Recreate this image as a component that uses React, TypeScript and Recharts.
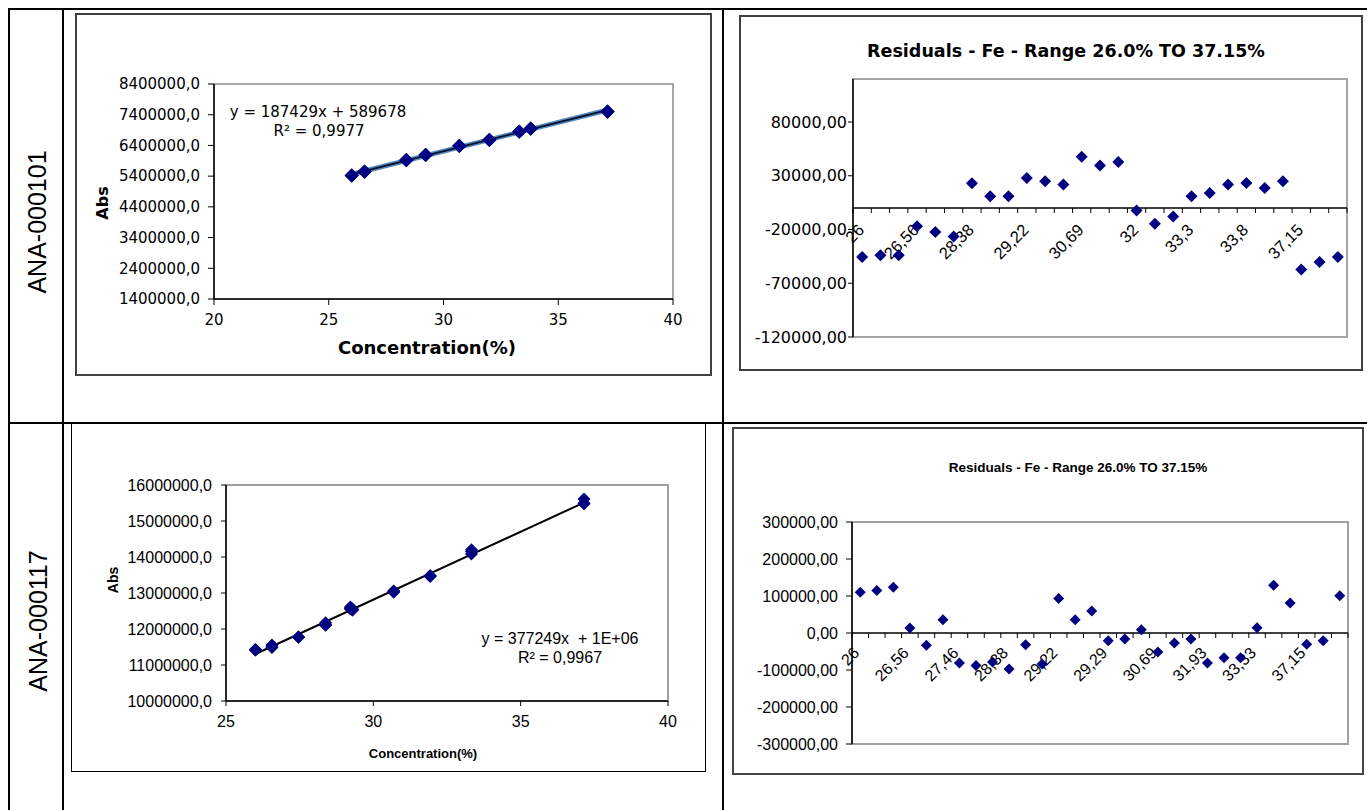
import type { ReactNode } from "react";
import {
  ReferenceArea,
  ReferenceLine,
  Scatter,
  ScatterChart,
  XAxis,
  YAxis,
} from "recharts";

// ANA-000101: calibration points (conc %, Abs) and residuals
const tlConc = [
  26, 26, 26, 26.56, 26.56, 26.56, 28.38, 28.38, 28.38, 29.22, 29.22, 29.22,
  30.69, 30.69, 30.69, 32, 32, 32, 33.3, 33.3, 33.3, 33.8, 33.8, 33.8, 37.15,
  37.15, 37.15,
];
const tlAbs = [
  5417000, 5419000, 5419000, 5551000, 5545000, 5541000, 5932000, 5920000,
  5920000, 6094000, 6091000, 6088000, 6390000, 6381000, 6385000, 6585000,
  6573000, 6580000, 6842000, 6845000, 6853000, 6948000, 6943000, 6950000,
  7495000, 7502000, 7507000,
];
const tlTrendX = [26, 37.15];
const tlTrendY = [5463000, 7553000];
const tlXTicks = [20, 25, 30, 35, 40];
const tlYTicks = [1400000, 2400000, 3400000, 4400000, 5400000, 6400000, 7400000, 8400000];

const trResid = [
  -45500, -44000, -44000, -17000, -22400, -26400, 23000, 11000, 11000, 28000,
  24800, 21800, 47700, 39600, 42800, -2300, -14600, -7900, 11000, 14000, 21800,
  23300, 18700, 24800, -57200, -50200, -45500,
];
const trYTicks = [-120000, -70000, -20000, 30000, 80000];

// ANA-000117
const blConc = [
  26, 26, 26, 26.56, 26.56, 26.56, 27.46, 27.46, 27.46, 28.38, 28.38, 28.38,
  29.22, 29.22, 29.22, 29.29, 29.29, 29.29, 30.69, 30.69, 30.69, 31.93, 31.93,
  31.93, 33.33, 33.33, 33.33, 37.15, 37.15, 37.15,
];
const blAbs = [
  11415500, 11420100, 11429100, 11530200, 11483300, 11552800, 11775100,
  11768800, 11777800, 12105800, 12171700, 12119400, 12613200, 12556300,
  12579800, 12525800, 12530400, 12555600, 13023400, 13047700, 13058600,
  13461400, 13475800, 13475800, 14085100, 14199700, 14151900, 15481100,
  15491000, 15612800,
];
const blTrendX = [26, 37.15];
const blTrendY = [11305000, 15512000];
const blXTicks = [25, 30, 35, 40];
const blYTicks = [10000000, 11000000, 12000000, 13000000, 14000000, 15000000, 16000000];

const brResid = [
  110000, 114600, 123600, 13500, -33400, 36100, -81200, -87500, -78500, -97500,
  -31600, -83900, 93000, 36100, 59600, -20800, -16200, 9000, -51400, -27100,
  -16200, -81200, -66800, -66800, 14400, 129000, 81200, -30700, -20800, 101000,
];
const brYTicks = [-300000, -200000, -100000, 0, 100000, 200000, 300000];

const SANS = '"Liberation Sans", Arial, sans-serif';
const WIDE = '"DejaVu Sans", sans-serif';

const comma = (v: number, digits: number) => v.toFixed(digits).replace(".", ",");
const concLabel = (c: number) => String(c).replace(".", ",");

const tlData = tlConc.map((x, i) => ({ x, y: tlAbs[i] }));
const blData = blConc.map((x, i) => ({ x, y: blAbs[i] }));
const trData = trResid.map((y, i) => ({ x: i + 0.5, y }));
const brData = brResid.map((y, i) => ({ x: i + 0.5, y }));

function diamond(r: number) {
  return (p: any) => {
    const { cx, cy } = p;
    if (cx == null || cy == null) return <g />;
    return (
      <polygon
        points={`${cx},${cy - r} ${cx + r},${cy} ${cx},${cy + r} ${cx - r},${cy}`}
        fill="#000080"
      />
    );
  };
}

// zero line with category tick marks and every third label, like Excel's crossing axis
function zeroAxis(labels: string[], font: string, size: number, dx: number, dy: number) {
  return (p: any) => {
    const { x1, x2, y1 } = p;
    const step = (x2 - x1) / labels.length;
    const marks = [];
    for (let k = 0; k <= labels.length; k++) {
      marks.push(
        <line key={k} x1={x1 + k * step} x2={x1 + k * step} y1={y1} y2={y1 + 5} stroke="#000" />,
      );
    }
    return (
      <g>
        <line x1={x1} x2={x2} y1={y1} y2={y1} stroke="#000" strokeWidth={1.5} />
        {marks}
        {labels.map((lab, i) =>
          i % 3 === 0 ? (
            <text
              key={`t${i}`}
              transform={`translate(${x1 + (i + 0.5) * step + dx},${y1 + dy}) rotate(-45)`}
              textAnchor="end"
              fontSize={size}
              fontFamily={font}
              fill="#000"
            >
              {lab}
            </text>
          ) : null,
        )}
      </g>
    );
  };
}

function Txt({
  x,
  y,
  size,
  bold = false,
  family = SANS,
  rotate = false,
  children,
}: {
  x: number;
  y: number;
  size: number;
  bold?: boolean;
  family?: string;
  rotate?: boolean;
  children: ReactNode;
}) {
  return (
    <div
      style={{
        position: "absolute",
        left: x,
        top: y,
        transform: `translate(-50%, -50%)${rotate ? " rotate(-90deg)" : ""}`,
        fontSize: size,
        fontWeight: bold ? 700 : 400,
        fontFamily: family,
        lineHeight: 1,
        whiteSpace: "pre",
        color: "#000",
      }}
    >
      {children}
    </div>
  );
}

function Box({ x, y, w, h, border }: { x: number; y: number; w: number; h: number; border: string }) {
  return (
    <div
      style={{
        position: "absolute",
        left: x,
        top: y,
        width: w,
        height: h,
        border,
        boxSizing: "border-box",
      }}
    />
  );
}

function Rule({ x, y, w, h }: { x: number; y: number; w: number; h: number }) {
  return <div style={{ position: "absolute", left: x, top: y, width: w, height: h, background: "#000" }} />;
}

export default function App() {
  return (
    <div
      style={{
        position: "absolute",
        left: 0,
        top: 0,
        width: 1367,
        height: 810,
        overflow: "hidden",
        background: "#fff",
      }}
    >
      {/* table rules */}
      <Rule x={8} y={8} w={1359} h={2} />
      <Rule x={8} y={422} w={1359} h={2} />
      <Rule x={8} y={8} w={2} h={802} />
      <Rule x={62} y={8} w={2} h={802} />
      <Rule x={722} y={8} w={2} h={802} />

      <Txt x={37} y={222} size={25} rotate>
        ANA-000101
      </Txt>
      <Txt x={38} y={621} size={25} rotate>
        ANA-000117
      </Txt>

      {/* top left: calibration */}
      <Box x={75} y={13} w={637} h={363} border="2px solid #404040" />
      <div style={{ position: "absolute", left: 75, top: 13 }}>
        <ScatterChart width={637} height={363} margin={{ top: 71, right: 39, bottom: 47, left: 0 }}>
          <ReferenceArea x1={20} x2={40} y1={1400000} y2={8400000} fill="none" stroke="#8c8c8c" strokeWidth={1.5} />
          <XAxis
            type="number"
            dataKey="x"
            domain={[20, 40]}
            ticks={tlXTicks}
            interval={0}
            height={30}
            tickSize={6}
            tickMargin={9}
            axisLine={{ stroke: "#000", strokeWidth: 1.5 }}
            tickLine={{ stroke: "#000" }}
            tick={{ fill: "#000", fontSize: 15, fontFamily: WIDE }}
          />
          <YAxis
            type="number"
            dataKey="y"
            domain={[1400000, 8400000]}
            ticks={tlYTicks}
            interval={0}
            width={139}
            tickSize={6}
            tickMargin={8}
            tickFormatter={(v) => comma(Number(v), 1)}
            axisLine={{ stroke: "#000", strokeWidth: 1.5 }}
            tickLine={{ stroke: "#000" }}
            tick={{ fill: "#000", fontSize: 15, fontFamily: WIDE }}
          />
          <ReferenceLine
            segment={[
              { x: tlTrendX[0], y: tlTrendY[0] },
              { x: tlTrendX[1], y: tlTrendY[1] },
            ]}
            stroke="#5b8cc4"
            strokeWidth={5}
          />
          <ReferenceLine
            segment={[
              { x: tlTrendX[0], y: tlTrendY[0] },
              { x: tlTrendX[1], y: tlTrendY[1] },
            ]}
            stroke="#0b1630"
            strokeWidth={2}
          />
          <Scatter data={tlData} shape={diamond(7)} isAnimationActive={false} />
        </ScatterChart>
      </div>
      <Txt x={318} y={112} size={15} family={WIDE}>
        y = 187429x + 589678
      </Txt>
      <Txt x={319} y={131} size={15} family={WIDE}>
        R² = 0,9977
      </Txt>
      <Txt x={103} y={203} size={16} bold family={WIDE} rotate>
        Abs
      </Txt>
      <Txt x={427} y={348} size={18} bold family={WIDE}>
        Concentration(%)
      </Txt>

      {/* top right: residuals */}
      <Box x={739} y={15} w={624} h={356} border="2px solid #404040" />
      <div style={{ position: "absolute", left: 739, top: 15 }}>
        <ScatterChart width={624} height={356} margin={{ top: 64, right: 16, bottom: 34, left: 0 }}>
          <ReferenceArea x1={0} x2={trResid.length} y1={-120000} y2={120000} fill="none" stroke="#a6a6a6" strokeWidth={2} />
          <XAxis type="number" dataKey="x" domain={[0, trResid.length]} hide />
          <YAxis
            type="number"
            dataKey="y"
            domain={[-120000, 120000]}
            ticks={trYTicks}
            interval={0}
            width={114}
            tickSize={5}
            tickMargin={1}
            tickFormatter={(v) => comma(Number(v), 2)}
            axisLine={{ stroke: "#000", strokeWidth: 1.5 }}
            tickLine={{ stroke: "#000" }}
            tick={{ fill: "#000", fontSize: 16, fontFamily: WIDE }}
          />
          <ReferenceLine y={0} shape={zeroAxis(tlConc.map(concLabel), SANS, 16.5, 3, 23)} />
          <Scatter data={trData} shape={diamond(6)} isAnimationActive={false} />
        </ScatterChart>
      </div>
      <Txt x={1066} y={52} size={17.5} bold family={WIDE}>
        Residuals - Fe - Range 26.0% TO 37.15%
      </Txt>

      {/* bottom left: calibration */}
      <Box x={71} y={423} w={635} h={349} border="1.5px solid #000" />
      <div style={{ position: "absolute", left: 71, top: 423 }}>
        <ScatterChart width={635} height={349} margin={{ top: 62, right: 38, bottom: 41, left: 0 }}>
          <ReferenceArea x1={25} x2={40} y1={10000000} y2={16000000} fill="none" stroke="#a0a0a0" strokeWidth={2} />
          <XAxis
            type="number"
            dataKey="x"
            domain={[25, 40]}
            ticks={blXTicks}
            interval={0}
            height={30}
            tickSize={5}
            tickMargin={10}
            axisLine={{ stroke: "#000", strokeWidth: 1.5 }}
            tickLine={{ stroke: "#000" }}
            tick={{ fill: "#000", fontSize: 16, fontFamily: SANS }}
          />
          <YAxis
            type="number"
            dataKey="y"
            domain={[10000000, 16000000]}
            ticks={blYTicks}
            interval={0}
            width={155}
            tickSize={5}
            tickMargin={9}
            tickFormatter={(v) => comma(Number(v), 1)}
            axisLine={{ stroke: "#000", strokeWidth: 1.5 }}
            tickLine={{ stroke: "#000" }}
            tick={{ fill: "#000", fontSize: 16, fontFamily: SANS }}
          />
          <ReferenceLine
            segment={[
              { x: blTrendX[0], y: blTrendY[0] },
              { x: blTrendX[1], y: blTrendY[1] },
            ]}
            stroke="#000"
            strokeWidth={2}
          />
          <Scatter data={blData} shape={diamond(6.5)} isAnimationActive={false} />
        </ScatterChart>
      </div>
      <Txt x={560} y={639} size={16}>
        y = 377249x  + 1E+06
      </Txt>
      <Txt x={560} y={658} size={16}>
        R² = 0,9967
      </Txt>
      <Txt x={113} y={580} size={14} bold rotate>
        Abs
      </Txt>
      <Txt x={423} y={753} size={13} bold>
        Concentration(%)
      </Txt>

      {/* bottom right: residuals */}
      <Box x={732} y={427} w={632} h={348} border="2px solid #444" />
      <div style={{ position: "absolute", left: 732, top: 427 }}>
        <ScatterChart width={632} height={348} margin={{ top: 95, right: 16, bottom: 31, left: 0 }}>
          <ReferenceArea x1={0} x2={brResid.length} y1={-300000} y2={300000} fill="none" stroke="#a0a0a0" strokeWidth={2} />
          <XAxis type="number" dataKey="x" domain={[0, brResid.length]} hide />
          <YAxis
            type="number"
            dataKey="y"
            domain={[-300000, 300000]}
            ticks={brYTicks}
            interval={0}
            width={120}
            tickSize={6}
            tickMargin={8}
            tickFormatter={(v) => comma(Number(v), 2)}
            axisLine={{ stroke: "#000", strokeWidth: 1.5 }}
            tickLine={{ stroke: "#000" }}
            tick={{ fill: "#000", fontSize: 16, fontFamily: SANS }}
          />
          <ReferenceLine y={0} shape={zeroAxis(blConc.map(concLabel), SANS, 16, 0, 21)} />
          <Scatter data={brData} shape={diamond(5.5)} isAnimationActive={false} />
        </ScatterChart>
      </div>
      <Txt x={1078} y={468} size={13.5} bold>
        Residuals - Fe - Range 26.0% TO 37.15%
      </Txt>
    </div>
  );
}
